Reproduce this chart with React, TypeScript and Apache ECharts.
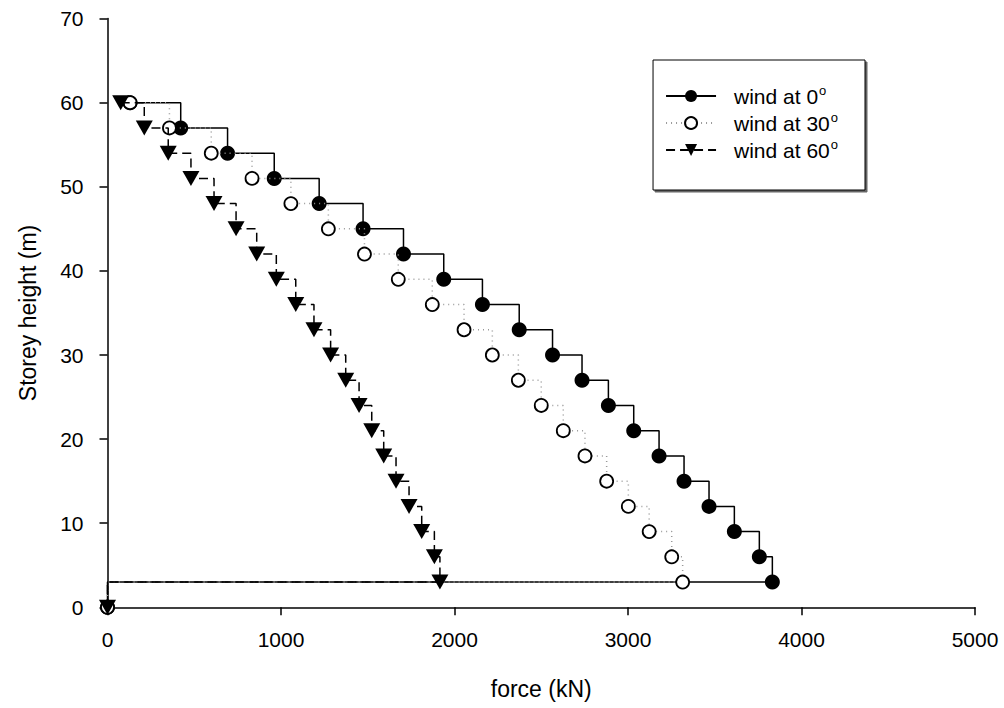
import React, { useEffect, useRef } from "react";
import * as echarts from "echarts";

const heights = [60, 57, 54, 51, 48, 45, 42, 39, 36, 33, 30, 27, 24, 21, 18, 15, 12, 9, 6, 3, 0];
const force0 = [130, 422, 692, 961, 1220, 1473, 1706, 1938, 2161, 2373, 2565, 2735, 2887, 3033, 3179, 3323, 3467, 3613, 3757, 3832, 0];
const force30 = [130, 357, 598, 833, 1057, 1273, 1481, 1676, 1872, 2055, 2218, 2368, 2500, 2627, 2752, 2877, 3002, 3122, 3252, 3315, 0];
const force60 = [76, 212, 350, 481, 614, 741, 860, 973, 1085, 1190, 1286, 1373, 1450, 1523, 1592, 1663, 1738, 1811, 1884, 1916, 0];
const seriesNames = ["wind at 0", "wind at 30", "wind at 60"];
const xTicks = [0, 1000, 2000, 3000, 4000, 5000];
const yTicks = [0, 10, 20, 30, 40, 50, 60, 70];

const FONT = 'Arial, "Liberation Sans", Helvetica, sans-serif';

function pairs(xs: number[]) {
  return xs.map((x, i) => [x, heights[i]]);
}

export default function App() {
  const ref = useRef<HTMLDivElement>(null);
  useEffect(() => {
    document.body.style.margin = "0";
    if (!ref.current) return;
    const chart = echarts.init(ref.current, null, { renderer: "svg" });
    chart.setOption({
      animation: false,
      backgroundColor: "#fff",
      grid: { left: 107.5, right: 29, top: 18.6, bottom: 100.7, containLabel: false },
      xAxis: {
        type: "value",
        min: xTicks[0],
        max: xTicks[xTicks.length - 1],
        interval: 1000,
        name: "force (kN)",
        nameLocation: "middle",
        nameGap: 70,
        nameTextStyle: { fontFamily: FONT, fontSize: 23, color: "#000" },
        axisLine: { show: true, lineStyle: { color: "#000", width: 1.5 } },
        axisTick: { show: true, length: 8, lineStyle: { color: "#000", width: 1.5 } },
        axisLabel: { margin: 22, fontFamily: FONT, fontSize: 21, color: "#000", formatter: (v: number) => String(v) },
        splitLine: { show: false },
      },
      yAxis: {
        type: "value",
        min: yTicks[0],
        max: yTicks[yTicks.length - 1],
        interval: 10,
        name: "Storey height (m)",
        nameLocation: "middle",
        nameGap: 68,
        nameTextStyle: { fontFamily: FONT, fontSize: 23, color: "#000" },
        axisLine: { show: true, lineStyle: { color: "#000", width: 1.5 } },
        axisTick: { show: true, length: 8, lineStyle: { color: "#000", width: 1.5 } },
        axisLabel: { margin: 24, fontFamily: FONT, fontSize: 21, color: "#000", formatter: (v: number) => String(v) },
        splitLine: { show: false },
      },
      legend: {
        orient: "vertical",
        right: 139,
        top: 60,
        data: seriesNames,
        itemWidth: 50,
        itemHeight: 15,
        itemGap: 4,
        padding: [24, 27, 29, 12],
        borderColor: "#000",
        borderWidth: 1,
        backgroundColor: "#fff",
        shadowColor: "rgba(0,0,0,0.6)",
        shadowOffsetX: 2,
        shadowOffsetY: 2,
        shadowBlur: 0,
        formatter: (name: string) => `{a|${name}}{sup|o}`,
        textStyle: {
          fontFamily: FONT,
          color: "#000",
          rich: {
            a: { fontFamily: FONT, fontSize: 21, lineHeight: 22, color: "#000", padding: [0, 0, 0, 13] },
            sup: { fontFamily: FONT, fontSize: 13, lineHeight: 22, color: "#000", verticalAlign: "bottom", padding: [0, 0, 10, 1] },
          },
        },
      },
      series: [
        {
          name: seriesNames[0],
          type: "line",
          step: "end",
          data: pairs(force0),
          symbol: "circle",
          symbolSize: 15,
          lineStyle: { color: "#000", width: 1.5, type: "solid" },
          itemStyle: { color: "#000", borderColor: "#000", borderWidth: 0 },
          z: 2,
        },
        {
          name: seriesNames[1],
          type: "line",
          step: "end",
          data: pairs(force30),
          symbol: "circle",
          symbolSize: 13,
          lineStyle: { color: "#999", width: 1.5, type: [1, 4] },
          itemStyle: { color: "#fff", borderColor: "#000", borderWidth: 1.8 },
          z: 3,
        },
        {
          name: seriesNames[2],
          type: "line",
          step: "end",
          data: pairs(force60),
          symbol: "triangle",
          symbolRotate: 180,
          symbolSize: [17, 15],
          lineStyle: { color: "#000", width: 1.5, type: [9, 5] },
          itemStyle: { color: "#000" },
          z: 4,
        },
      ],
    });
    return () => chart.dispose();
  }, []);
  return <div ref={ref} style={{ width: 1004, height: 708 }} />;
}
